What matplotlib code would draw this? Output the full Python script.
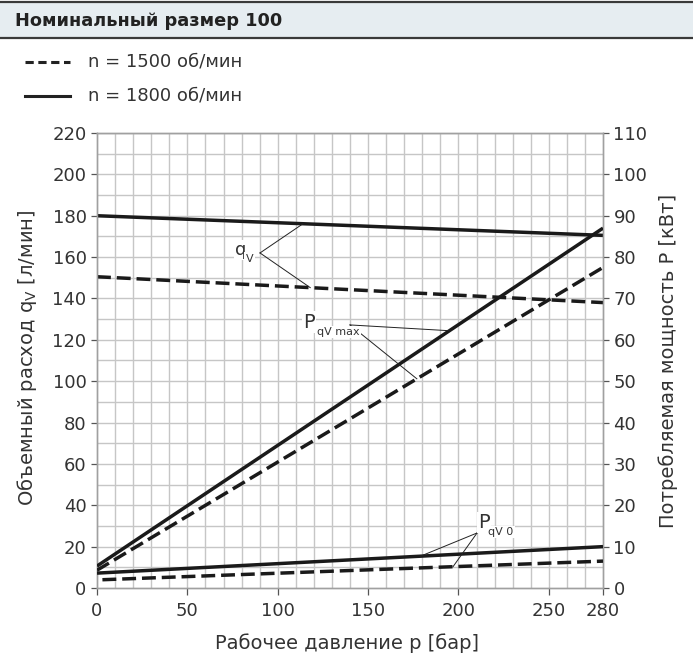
import numpy as np
import matplotlib
matplotlib.use("Agg")
import matplotlib.pyplot as plt
from matplotlib.lines import Line2D
from matplotlib.patches import Rectangle

plt.rcParams['font.family'] = ['DejaVu Sans']
plt.rcParams['mathtext.fontset'] = 'dejavusans'

# data
pressure = [0, 280]                 # бар
flow_1800 = [180, 170.5]            # л/мин
flow_1500 = [150.5, 138]
pmax_1800 = [5.3, 87]               # кВт
pmax_1500 = [4.3, 77.5]
p0_1800 = [3.6, 10]
pressure_p0_1500 = [3, 280]
p0_1500 = [2, 6.5]

xticks = [0, 50, 100, 150, 200, 250, 280]
yticks_left = list(range(0, 221, 20))
yticks_right = list(range(0, 111, 10))

title = "Номинальный размер 100"
leg_1500 = "n = 1500 об/мин"
leg_1800 = "n = 1800 об/мин"

W, H = 693, 658
txt = '#333333'
gridc = '#c6c6c6'
spinec = '#a0a0a0'
lw = 2.5
dash = (4, 1.7)


def fx(px):
    return px / W


def fy(py):
    return 1 - py / H


fig = plt.figure(figsize=(W / 100, H / 100), dpi=100)

# header band
fig.add_artist(Rectangle((0, fy(38)), 1, 35 / H, transform=fig.transFigure,
                         facecolor='#e6edf1', edgecolor='none'))
for yy in (2, 38):
    fig.add_artist(Line2D([0, 1], [fy(yy), fy(yy)], transform=fig.transFigure,
                          color='#3a3a3a', lw=1.6))
fig.text(fx(15), fy(21), title, fontsize=12.8, fontweight='bold', color='#222222',
         va='center', ha='left')

# legend on top
fig.add_artist(Line2D([fx(25), fx(70)], [fy(62), fy(62)], transform=fig.transFigure,
                      color='#222222', lw=2.2, ls=(0, (2.7, 1.5))))
fig.add_artist(Line2D([fx(25), fx(70)], [fy(96), fy(96)], transform=fig.transFigure,
                      color='#222222', lw=2.2))
fig.text(fx(88), fy(62), leg_1500, fontsize=13, color=txt, va='center')
fig.text(fx(88), fy(96), leg_1800, fontsize=13, color=txt, va='center')

ax = fig.add_axes([fx(97), fy(588), 506 / W, 455 / H])
ax2 = ax.twinx()

ax.set_xlim(0, 280)
ax.set_ylim(0, 220)
ax2.set_ylim(0, 110)

# grid every 10 bar / 10 l/min
for x in range(10, 280, 10):
    ax.axvline(x, color=gridc, lw=1.0, zorder=0)
for y in range(10, 221, 10):
    ax.axhline(y, color=gridc, lw=1.0, zorder=0)

ax.plot(pressure, flow_1800, color='#1a1a1a', lw=lw, solid_capstyle='butt', zorder=3)
ax.plot(pressure, flow_1500, color='#1a1a1a', lw=lw, dashes=dash, zorder=3)
ax2.plot(pressure, pmax_1800, color='#1a1a1a', lw=lw, solid_capstyle='butt', zorder=3)
ax2.plot(pressure, pmax_1500, color='#1a1a1a', lw=lw, dashes=dash, zorder=3)
ax2.plot(pressure, p0_1800, color='#1a1a1a', lw=lw, solid_capstyle='butt', zorder=3)
ax2.plot(pressure_p0_1500, p0_1500, color='#1a1a1a', lw=lw, dashes=dash, zorder=3)

# leader lines and labels
box = dict(facecolor='white', edgecolor='none', pad=1.0)


def leader(axis, origin, targets, main, main_xy, sub, sub_xy, size=14):
    for tx, ty in targets:
        axis.plot([origin[0], tx], [origin[1], ty], color='#222222', lw=0.7, zorder=4)
    axis.text(main_xy[0], main_xy[1], main, fontsize=size, color=txt, ha='left',
              va='baseline', bbox=box, zorder=5)
    axis.text(sub_xy[0], sub_xy[1], sub, fontsize=8, color=txt, ha='left',
              va='baseline', bbox=box, zorder=5)


leader(ax, (90.2, 162),
       [(114, np.interp(114, pressure, flow_1800)), (118, np.interp(118, pressure, flow_1500))],
       'q', (76.4, 161), 'V', (82.2, 157.8), size=13)

leader(ax2, (140, 63.6),
       [(195, np.interp(195, pressure, pmax_1800)), (177, np.interp(177, pressure, pmax_1500))],
       'P', (114, 62.9), 'qV max', (121.5, 61.2))

leader(ax2, (210.3, 13.3),
       [(179, np.interp(179, pressure, p0_1800)), (197, np.interp(197, pressure_p0_1500, p0_1500))],
       'P', (211, 14.5), 'qV 0', (216.6, 12.8))

# axes styling
for a in (ax, ax2):
    for s in a.spines.values():
        s.set_color(spinec)
        s.set_linewidth(1.0)
    a.tick_params(colors='#555555', labelcolor=txt, labelsize=13, length=4, width=0.9)

ax.set_xticks(xticks)
ax.set_yticks(yticks_left)
ax2.set_yticks(yticks_right)
ax.tick_params(axis='x', pad=5, length=5)

fig.text(fx(347), fy(643), "Рабочее давление p [бар]", fontsize=14, color=txt,
         ha='center', va='center')
fig.text(fx(27), fy(358), "Объемный расход q$_{\\mathregular{V}}$ [л/мин]", fontsize=14,
         color=txt, ha='center', va='center', rotation=90)
fig.text(fx(668), fy(361), "Потребляемая мощность P [кВт]", fontsize=14, color=txt,
         ha='center', va='center', rotation=90)

fig.savefig("out.png", dpi=100)
